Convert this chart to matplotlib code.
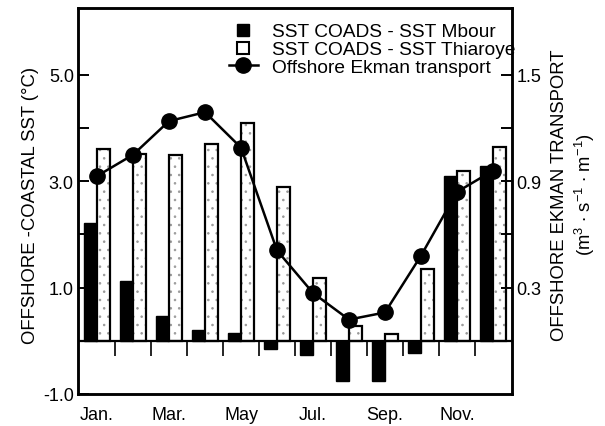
import numpy as np
import matplotlib
matplotlib.use("Agg")
import matplotlib.pyplot as plt
from matplotlib.lines import Line2D

plt.rcParams['font.family'] = ['Liberation Sans', 'DejaVu Sans']
plt.rcParams['mathtext.fontset'] = 'custom'
plt.rcParams['mathtext.rm'] = 'Liberation Sans'
plt.rcParams['mathtext.it'] = 'Liberation Sans'
plt.rcParams['axes.unicode_minus'] = False
plt.rcParams['hatch.linewidth'] = 0.6

# ---- data ----
months = ['Jan.', 'Feb.', 'Mar.', 'Apr.', 'May', 'Jun.', 'Jul.', 'Aug.', 'Sep.', 'Oct.', 'Nov.', 'Dec.']
month_labels = ['Jan.', 'Mar.', 'May', 'Jul.', 'Sep.', 'Nov.']
mbour = [2.21, 1.13, 0.47, 0.21, 0.15, -0.15, -0.26, -0.75, -0.75, -0.22, 3.10, 3.29]
thiaroye = [3.60, 3.51, 3.49, 3.70, 4.09, 2.89, 1.18, 0.28, 0.12, 1.36, 3.19, 3.65]
ekman = [0.93, 1.05, 1.24, 1.29, 1.09, 0.51, 0.27, 0.12, 0.16, 0.48, 0.84, 0.96]
left_ticks = [-1.0, 1.0, 3.0, 5.0]
left_minor = [2.0, 4.0]
right_ticks = [0.3, 0.9, 1.5]
right_minor = [0.6, 1.2]

fig = plt.figure(figsize=(6.05, 4.27), dpi=100)
ax = fig.add_axes([78/605, 1-395/427, 434/605, 386/427])
x = np.arange(len(months))
w = 0.36

ax.bar(x - w/2, mbour, width=w, color='black', edgecolor='black', linewidth=1.0, zorder=2)
ax.bar(x + w/2, thiaroye, width=w, color='white', edgecolor='#999999', linewidth=0, hatch='..', zorder=2)
ax.bar(x + w/2, thiaroye, width=w, color='none', edgecolor='black', linewidth=1.6, zorder=3)

ax.axhline(0, color='black', linewidth=1.6, zorder=4)
ax.vlines(np.arange(len(months) - 1) + 0.5, -0.28, 0, color='black', linewidth=1.2, zorder=4)

ax.set_xlim(-0.53, 11.53)
ax.set_ylim(-1.0, 6.26)
ax.set_xticks(x[::2])
ax.set_xticklabels(month_labels, fontsize=13)
ax.tick_params(axis='x', length=0, pad=9)
ax.set_yticks(left_ticks)
ax.set_yticklabels(['%.1f' % v for v in left_ticks], fontsize=13)
ax.set_yticks(left_minor, minor=True)
ax.tick_params(axis='y', which='both', direction='in', length=8, width=1.4, pad=3)
for s in ax.spines.values():
    s.set_linewidth(1.8)

ax2 = ax.twinx()
ax2.plot(x, ekman, color='black', linewidth=1.8, marker='o', markersize=11, zorder=5)
ax2.set_ylim(-0.3, 6.26 * 0.3)
ax2.set_yticks(right_ticks)
ax2.set_yticklabels(['%.1f' % v for v in right_ticks], fontsize=13)
ax2.set_yticks(right_minor, minor=True)
ax2.tick_params(axis='y', which='both', direction='in', length=8, width=1.4, pad=3)
for s in ax2.spines.values():
    s.set_linewidth(1.8)

fig.text(31/605, 1-205/427, 'OFFSHORE -COASTAL SST (°C)', rotation=90,
         ha='center', va='center', fontsize=13.3)
fig.text(574/605, 1-195/427, 'OFFSHORE EKMAN TRANSPORT\n(m$^{3}$ $\\bullet$ s$^{-1}$ $\\bullet$ m$^{-1}$)',
         rotation=90, ha='center', va='center', fontsize=13.3, linespacing=1.25, multialignment='center')

handles = [
    Line2D([], [], marker='s', color='black', linestyle='none', markersize=9),
    Line2D([], [], marker='s', markerfacecolor='white', markeredgecolor='black', markeredgewidth=1.5,
           linestyle='none', markersize=8),
    Line2D([], [], marker='o', color='black', linewidth=1.8, markersize=11),
]
labels = ['SST COADS - SST Mbour', 'SST COADS - SST Thiaroye', 'Offshore Ekman transport']
leg = ax2.legend(handles, labels, loc='upper left', bbox_to_anchor=(229/605, 1-24/427),
                 bbox_transform=fig.transFigure, frameon=False, fontsize=13.8,
                 handlelength=1.5, handletextpad=0.75, labelspacing=0.02,
                 borderpad=0, borderaxespad=0)
leg.set_zorder(10)

fig.savefig('out.png', dpi=100)
